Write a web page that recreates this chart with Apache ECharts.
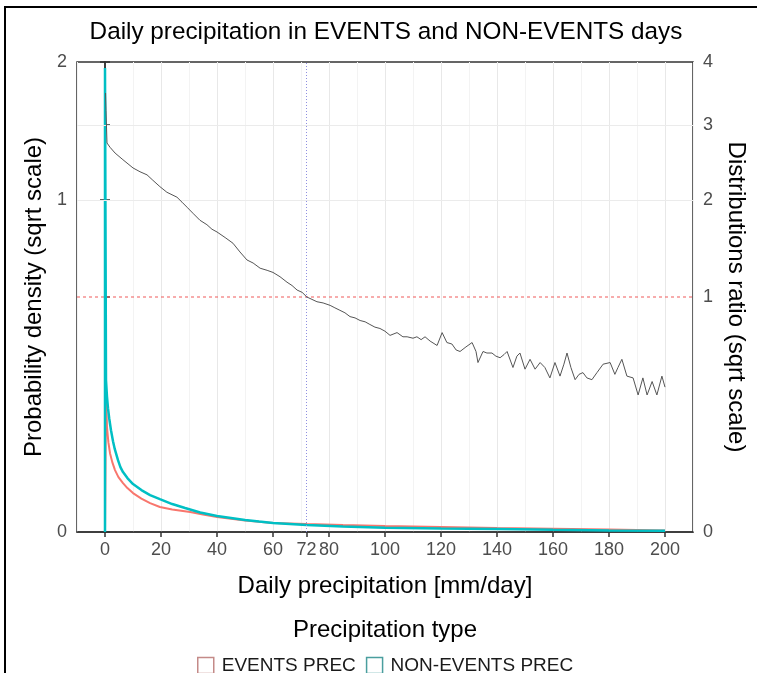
<!DOCTYPE html>
<html>
<head>
<meta charset="utf-8">
<title>Daily precipitation in EVENTS and NON-EVENTS days</title>
<script src="https://cdn.jsdelivr.net/npm/echarts@6/dist/echarts.min.js"></script>
<style>
  html, body { margin: 0; padding: 0; background: #fff; }
  #chart { width: 757px; height: 673px; }
</style>
</head>
<body>
<div id="chart"></div>
<script>
/* data (x in mm/day) */
// EVENTS PREC density
const eventsX = [0, 0.36, 0.71, 1.2, 1.79, 2.6, 3.57, 4.8, 6.43, 8, 10, 13, 16.1, 19.6, 24, 30.4, 35, 40, 50, 60,
  72, 85, 100, 120, 140, 160, 180, 200];
const eventsDensity = [0, 0.1768, 0.0994, 0.0730, 0.0563, 0.0442, 0.0347, 0.0273, 0.0217, 0.01746, 0.01372, 0.01012, 0.00758, 0.00564, 0.00457, 0.00361, 0.00276, 0.00203, 0.00119, 0.00073,
  0.00058, 0.00044, 0.00032, 0.000225, 0.000144, 0.000098, 0.000061, 0.00002];

// NON-EVENTS PREC density
const nonEventsX = [0, 0, 0.36, 0.7, 1.07, 1.5, 2.14, 2.86, 3.5, 4.64, 5.5, 6.43, 8, 10, 13, 16.1, 19.6, 24, 28.6, 34,
  40, 45, 50, 55, 60, 66, 72, 85, 100, 120, 140, 160, 180, 200];
const nonEventsDensity = [0, 1.95, 0.2083, 0.1668, 0.1387, 0.1172, 0.0938, 0.0747, 0.0621, 0.0467, 0.0381, 0.0325, 0.0263, 0.0208, 0.0159, 0.01235, 0.00982, 0.00707, 0.0052, 0.00343,
  0.00231, 0.00177, 0.0013, 0.00099, 0.00073, 0.00058, 0.00044, 0.00027, 0.00016, 0.00011, 0.000081, 0.0000436, 0.000023, 0.000013];

// distributions ratio
const ratioX = [0.2, 0.36, 0.71, 1.8, 3.6, 6.4, 10, 12.5, 15, 17.1, 19.6, 22.1, 25.7, 27.5, 29.3, 31.4, 33.9, 36.4, 38.2, 40,
  42.9, 45.7, 48.2, 50.7, 52.9, 55.4, 57.9, 60, 62.5, 65, 66.8, 68.6, 70.4, 72.1, 73.9, 75.7, 77.9, 80.4, 82.1, 83.9,
  85.7, 87.5, 89.3, 91.1, 92.9, 94.6, 96.4, 98.2, 100, 101.8, 104.3, 106.4, 107.9, 110, 111.4, 112.9, 114.3, 116.1, 118.6, 120.4,
  122.1, 123.9, 125.4, 126.8, 128.9, 131.1, 132.5, 133.2, 135, 136.4, 138.2, 139.6, 141.1, 142.5, 143.6, 145.7, 147.1, 148.2, 150, 151.8,
  153.6, 155.4, 157.1, 158.9, 160.7, 162.5, 163.9, 165, 166.4, 167.9, 169.3, 170.7, 172.1, 173.9, 175.7, 177.9, 180.4, 182.1, 183.2, 184.6,
  186.4, 188.6, 190.4, 192.1, 193.6, 195.4, 197.1, 198.9, 200];
const ratioValues = [3.49, 3.22, 2.74, 2.68, 2.60, 2.51, 2.40, 2.35, 2.31, 2.24, 2.16, 2.09, 2.03, 1.97, 1.91, 1.84, 1.76, 1.71, 1.66, 1.63,
  1.57, 1.51, 1.42, 1.34, 1.31, 1.26, 1.24, 1.22, 1.18, 1.13, 1.10, 1.06, 1.04, 1.00, 0.98, 0.96, 0.95, 0.93, 0.91, 0.89,
  0.87, 0.84, 0.83, 0.81, 0.80, 0.78, 0.76, 0.75, 0.73, 0.70, 0.72, 0.69, 0.69, 0.68, 0.69, 0.67, 0.69, 0.66, 0.63, 0.72,
  0.65, 0.64, 0.60, 0.59, 0.62, 0.65, 0.59, 0.52, 0.59, 0.58, 0.58, 0.56, 0.55, 0.57, 0.59, 0.49, 0.56, 0.58, 0.48, 0.54,
  0.48, 0.52, 0.49, 0.43, 0.52, 0.44, 0.51, 0.58, 0.49, 0.42, 0.45, 0.46, 0.43, 0.42, 0.46, 0.51, 0.52, 0.45, 0.49, 0.54,
  0.44, 0.43, 0.34, 0.43, 0.34, 0.41, 0.34, 0.44, 0.38];

// axis breaks
const xTicks = [0, 20, 40, 60, 72, 80, 100, 120, 140, 160, 180, 200];
const xRange = [-10, 210];
const densityTicks = [0, 1, 2];
const ratioTicks = [0, 1, 2, 3, 4];
const thresholdX = 72;
const ratioRef = 1;

/* helpers */
const FONT = '"Liberation Sans", Arial, sans-serif';
// sqrt scale: the library draws sqrt(value), labels show value again
const sq = v => Math.sqrt(v);
const pairs = (xs, ys) => xs.map((x, i) => [x, sq(ys[i])]);
const unSq = v => String(Math.round(v * v));

// one markLine-only series
function refSeries(name, z, lineStyle, data) {
  return {
    name: name, type: 'line', xAxisIndex: 1, yAxisIndex: 1, data: [], z: z, silent: true,
    color: lineStyle.color,
    markLine: {
      silent: true, symbol: 'none', label: { show: false }, animation: false,
      lineStyle: lineStyle,
      emphasis: { disabled: true },
      data: data
    }
  };
}

let chart = echarts.init(document.getElementById('chart'), null, { renderer: 'canvas' });

let option = {
  backgroundColor: '#fff',
  animation: false,
  textStyle: { fontFamily: FONT },
  grid: {
    left: 77, right: 64, top: 62, bottom: 141,
    show: true, borderColor: '#333', borderWidth: 1.5, backgroundColor: 'transparent'
  },
  graphic: [
    { type: 'rect', shape: { x: 5, y: 7, width: 800, height: 700 },
      style: { fill: 'transparent', stroke: '#000', lineWidth: 2 }, silent: true },
    { type: 'text', x: 386, y: 32,
      style: { text: 'Daily precipitation in EVENTS and NON-EVENTS days', font: '24.3px ' + FONT,
        fill: '#000', align: 'center', verticalAlign: 'middle' } },
    { type: 'text', x: 385, y: 630,
      style: { text: 'Precipitation type', font: '24px ' + FONT,
        fill: '#000', align: 'center', verticalAlign: 'middle' } }
  ],
  legend: {
    left: 192, top: 651,
    itemWidth: 16, itemHeight: 16, itemGap: 10,
    textStyle: { fontSize: 19, color: '#1a1a1a', fontFamily: FONT, padding: [0, 0, 0, 3] },
    data: [
      { name: 'EVENTS PREC', icon: 'rect', itemStyle: { color: '#fff', borderColor: '#c48a88', borderWidth: 1.5 } },
      { name: 'NON-EVENTS PREC', icon: 'rect', itemStyle: { color: '#fff', borderColor: '#4a9e9e', borderWidth: 1.5 } }
    ]
  },
  xAxis: [
    { // grid lines only
      type: 'value', min: xRange[0], max: xRange[1], interval: 10, position: 'bottom',
      axisLine: { show: false }, axisTick: { show: false }, axisLabel: { show: false },
      splitLine: { show: true, lineStyle: { color: ['#f3f3f3', '#e8e8e8'], width: 1 } }
    },
    {
      type: 'value', min: xRange[0], max: xRange[1], position: 'bottom',
      name: 'Daily precipitation [mm/day]', nameLocation: 'middle', nameGap: 42,
      nameTextStyle: { fontSize: 24, color: '#000', fontFamily: FONT },
      axisLine: { show: true, lineStyle: { color: '#333', width: 1.5 } },
      axisTick: { show: true, length: 5, customValues: xTicks, lineStyle: { color: '#333', width: 1.5 } },
      axisLabel: { customValues: xTicks, margin: 9, fontSize: 18, color: '#4d4d4d', fontFamily: FONT },
      splitLine: { show: false }
    }
  ],
  yAxis: [
    {
      type: 'value', min: 0, max: sq(densityTicks[densityTicks.length - 1]), position: 'left',
      name: 'Probability density (sqrt scale)', nameLocation: 'middle', nameGap: 30, nameRotate: 90,
      nameTextStyle: { fontSize: 24, color: '#000', fontFamily: FONT },
      axisLine: { show: true, lineStyle: { color: '#333', width: 1.5 } },
      axisTick: { show: true, length: 5, customValues: densityTicks.map(sq), lineStyle: { color: '#333', width: 1.5 } },
      axisLabel: { customValues: densityTicks.map(sq), formatter: unSq, margin: 10, fontSize: 18, color: '#4d4d4d', fontFamily: FONT },
      splitLine: { show: false }
    },
    {
      type: 'value', min: 0, max: sq(ratioTicks[ratioTicks.length - 1]), position: 'right',
      name: 'Distributions ratio (sqrt scale)', nameLocation: 'middle', nameGap: 28, nameRotate: -90,
      nameTextStyle: { fontSize: 24, color: '#000', fontFamily: FONT },
      axisLine: { show: true, lineStyle: { color: '#333', width: 1.5 } },
      axisTick: { show: true, length: 5, customValues: ratioTicks.map(sq), lineStyle: { color: '#333', width: 1.5 } },
      axisLabel: { customValues: ratioTicks.map(sq), formatter: unSq, margin: 10, fontSize: 18, color: '#4d4d4d', fontFamily: FONT },
      splitLine: { show: false }
    }
  ],
  series: [
    // horizontal grid lines at the ratio breaks
    refSeries('grid', 1, { color: '#ebebeb', width: 1.2, type: 'solid' },
      ratioTicks.filter(v => v > 0 && v < 4 && v !== ratioRef).map(v => ({ yAxis: sq(v) }))),
    // 72 mm/day threshold
    refSeries('threshold', 2, { color: '#8f8fe0', width: 1, type: [1, 2] }, [{ xAxis: thresholdX }]),
    { // ratio = 1 reference, drawn across the whole x range
      name: 'ratioRef', type: 'line', xAxisIndex: 1, yAxisIndex: 1, silent: true, z: 2,
      data: xRange.map(x => [x, sq(ratioRef)]), showSymbol: false, symbol: 'none',
      lineStyle: { color: '#f05a5a', width: 1, type: [3, 3] }
    },
    {
      name: 'EVENTS PREC', type: 'line', xAxisIndex: 1, yAxisIndex: 0,
      data: pairs(eventsX, eventsDensity), showSymbol: false, symbol: 'none',
      lineStyle: { color: '#F8766D', width: 2 }, itemStyle: { color: '#F8766D' }, z: 3
    },
    {
      name: 'NON-EVENTS PREC', type: 'line', xAxisIndex: 1, yAxisIndex: 0,
      data: pairs(nonEventsX, nonEventsDensity), showSymbol: false, symbol: 'none',
      lineStyle: { color: '#00BFC4', width: 2.5 }, itemStyle: { color: '#00BFC4' }, z: 4
    },
    {
      name: 'ratio', type: 'line', xAxisIndex: 1, yAxisIndex: 1,
      data: pairs(ratioX, ratioValues), showSymbol: false, symbol: 'none',
      lineStyle: { color: '#555', width: 1 }, z: 5
    }
  ]
};

chart.setOption(option);
</script>
</body>
</html>
